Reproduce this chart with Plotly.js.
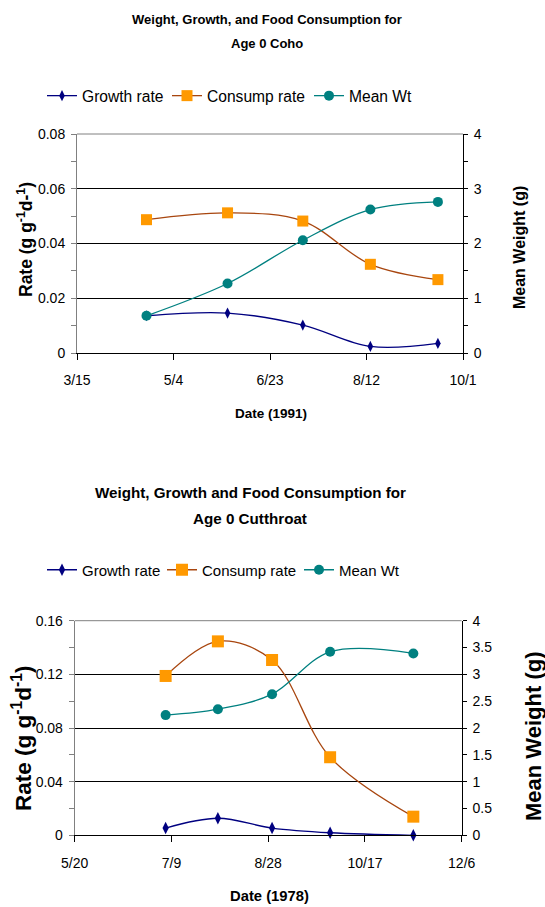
<!DOCTYPE html>
<html>
<head>
<meta charset="utf-8">
<script src="https://cdn.plot.ly/plotly-3.0.1.min.js"></script>
<style>html,body{margin:0;padding:0;background:#fff;}#chart{width:545px;height:907px;}</style>
</head>
<body>
<div id="chart"></div>
<script>
// ---- Data: Age 0 Coho (1991) ----
const cohoDates = ['1991-04-20', '1991-06-01', '1991-07-10', '1991-08-14', '1991-09-18'];
const cohoGrowth = [0.0136, 0.0146, 0.0102, 0.0024, 0.0035];
const cohoConsump = [0.0487, 0.0512, 0.0482, 0.0324, 0.0268];
const cohoMeanWt = [0.68, 1.27, 2.06, 2.62, 2.76];
const cohoTickVals = ['1991-03-15', '1991-05-04', '1991-06-23', '1991-08-12', '1991-10-01'];
const cohoTickText = ['3/15', '5/4', '6/23', '8/12', '10/1'];

// ---- Data: Age 0 Cutthroat (1978) ----
const cutDates = ['1978-07-06', '1978-08-02', '1978-08-30', '1978-09-29', '1978-11-11'];
const cutGrowth = [0.0054, 0.0127, 0.0054, 0.0019, 0.0];
const cutConsump = [0.1188, 0.1446, 0.1307, 0.0582, 0.0139];
const cutMeanWt = [2.24, 2.35, 2.63, 3.42, 3.39];
const cutTickVals = ['1978-05-20', '1978-07-09', '1978-08-28', '1978-10-17', '1978-12-06'];
const cutTickText = ['5/20', '7/9', '8/28', '10/17', '12/6'];

const seriesNames = ['Growth rate', 'Consump rate', 'Mean Wt'];

const W = 545, H = 907;
const px = v => v / W;
const py = v => 1 - v / H;

const SANS = '"Liberation Sans", Arial, sans-serif';

const navy = '#000080', brown = '#A8460F', orange = '#FF9900', teal = '#008080';

function mk(x, y, name, xa, ya, leg, style) {
  return Object.assign({
    type: 'scatter', mode: 'lines+markers', x: x, y: y, name: name,
    xaxis: xa, yaxis: ya, legend: leg, cliponaxis: false
  }, style);
}

const growthStyle = (s) => ({ line: { color: navy, width: 1.3, shape: 'spline', smoothing: 1 }, marker: { symbol: 'diamond-tall', size: s, color: navy } });
const consStyle = (s) => ({ line: { color: brown, width: 1.3, shape: 'spline', smoothing: 1 }, marker: { symbol: 'square', size: s, color: orange } });
const wtStyle = (s) => ({ line: { color: teal, width: 1.3, shape: 'spline', smoothing: 1 }, marker: { symbol: 'circle', size: s, color: teal } });

const data = [
  mk(cohoDates, cohoGrowth, seriesNames[0], 'x', 'y', 'legend', growthStyle(8)),
  mk(cohoDates, cohoConsump, seriesNames[1], 'x', 'y', 'legend2', consStyle(11)),
  mk(cohoDates, cohoMeanWt, seriesNames[2], 'x', 'y2', 'legend3', wtStyle(10)),
  mk(cutDates, cutGrowth, seriesNames[0], 'x2', 'y3', 'legend4', growthStyle(9)),
  mk(cutDates, cutConsump, seriesNames[1], 'x2', 'y3', 'legend5', consStyle(12)),
  mk(cutDates, cutMeanWt, seriesNames[2], 'x2', 'y4', 'legend6', wtStyle(10))
];

const tickFont = { family: SANS, size: 14, color: '#000' };

function leg(xPix, yPix, size) {
  return { orientation: 'h', x: px(xPix), xanchor: 'left', y: py(yPix), yanchor: 'middle',
    font: { family: SANS, size: size, color: '#000' }, bgcolor: 'rgba(0,0,0,0)', borderwidth: 0 };
}

const topX = [px(77), px(463)], topY = [py(353), py(134)];
const botX = [px(74.7), px(461.7)], botY = [py(835.3), py(620.7)];

function ann(text, x, y, size, angle) {
  const a = { text: text, x: px(x), y: py(y), xref: 'paper', yref: 'paper', showarrow: false,
    xanchor: 'center', yanchor: 'middle', font: { family: SANS, size: size, color: '#000' } };
  if (angle) a.textangle = angle;
  return a;
}

const layout = {
  width: W, height: H, autosize: false,
  margin: { l: 0, r: 0, t: 0, b: 0 },
  paper_bgcolor: '#fff', plot_bgcolor: '#fff',
  font: { family: SANS, color: '#000' },
  showlegend: true,
  legend: leg(42, 96, 15.6), legend2: leg(167, 96, 15.6), legend3: leg(309, 96, 15.6),
  legend4: leg(42, 570, 15), legend5: leg(162, 570, 15), legend6: leg(299, 570, 15),
  xaxis: {
    type: 'date', domain: topX, anchor: 'y', range: [cohoTickVals[0], cohoTickVals[4]],
    tickmode: 'array', tickvals: cohoTickVals, ticktext: cohoTickText,
    ticks: 'outside', ticklen: 6, tickcolor: '#000', showgrid: false, zeroline: false,
    showline: true, linecolor: '#000', linewidth: 1, tickfont: tickFont, ticklabelstandoff: 8
  },
  yaxis: {
    domain: topY, anchor: 'x', range: [0, 0.08], dtick: 0.02, tick0: 0,
    ticks: 'outside', ticklen: 5, tickcolor: '#808080', showgrid: true, gridcolor: '#000', gridwidth: 1,
    zeroline: false, showline: true, linecolor: '#808080', tickfont: tickFont, ticklabelstandoff: 3,
    minor: { dtick: 0.01, ticks: 'outside', ticklen: 5, tickcolor: '#808080', showgrid: false }
  },
  yaxis2: {
    overlaying: 'y', side: 'right', anchor: 'x', range: [0, 4], dtick: 1, tick0: 0,
    ticks: 'outside', ticklen: 4, tickcolor: '#000', showgrid: false, zeroline: false,
    showline: true, linecolor: '#000', tickfont: tickFont, ticklabelstandoff: 3,
    minor: { dtick: 0.5, ticks: 'outside', ticklen: 4, tickcolor: '#000', showgrid: false }
  },
  yaxis5: {
    overlaying: 'y', side: 'right', anchor: 'x', range: [0, 4], dtick: 0.5, tick0: 0,
    ticks: 'inside', ticklen: 4, tickcolor: '#000', showgrid: false, zeroline: false,
    showline: false, showticklabels: false
  },
  xaxis2: {
    type: 'date', domain: botX, anchor: 'y3', range: [cutTickVals[0], cutTickVals[4]],
    tickmode: 'array', tickvals: cutTickVals, ticktext: cutTickText,
    ticks: 'outside', ticklen: 6, tickcolor: '#000', showgrid: false, zeroline: false,
    showline: true, linecolor: '#000', linewidth: 1, tickfont: tickFont, ticklabelstandoff: 9
  },
  yaxis3: {
    domain: botY, anchor: 'x2', range: [0, 0.16], dtick: 0.04, tick0: 0,
    ticks: 'outside', ticklen: 5, tickcolor: '#808080', showgrid: true, gridcolor: '#000', gridwidth: 1,
    zeroline: false, showline: true, linecolor: '#808080', tickfont: tickFont, ticklabelstandoff: 3,
    minor: { dtick: 0.02, ticks: 'outside', ticklen: 5, tickcolor: '#808080', showgrid: false }
  },
  yaxis4: {
    overlaying: 'y3', side: 'right', anchor: 'x2', range: [0, 4], dtick: 0.5, tick0: 0,
    ticks: 'outside', ticklen: 4, tickcolor: '#000', showgrid: false, zeroline: false,
    showline: true, linecolor: '#000', tickfont: tickFont, ticklabelstandoff: 3
  },
  yaxis6: {
    overlaying: 'y3', side: 'right', anchor: 'x2', range: [0, 4], dtick: 0.5, tick0: 0,
    ticks: 'inside', ticklen: 4, tickcolor: '#000', showgrid: false, zeroline: false,
    showline: false, showticklabels: false
  },
  shapes: [
    { type: 'line', xref: 'x domain', yref: 'y domain', x0: 0, x1: 1, y0: 1, y1: 1, line: { color: '#808080', width: 1 } },
    { type: 'line', xref: 'x2 domain', yref: 'y3 domain', x0: 0, x1: 1, y0: 1, y1: 1, line: { color: '#808080', width: 1 } }
  ],
  annotations: [
    ann('<b>Weight, Growth, and Food Consumption for</b>', 267, 20, 13),
    ann('<b>Age 0 Coho</b>', 267, 43, 13),
    ann('<b>Date (1991)</b>', 271, 413, 13.5),
    ann('<b>Rate (g g<sup>-1</sup>d-<sup>1</sup>)</b>', 25, 240, 17.5, -90),
    ann('<b>Mean Weight (g)</b>', 519, 248, 16, -90),
    ann('<b>Weight, Growth and Food Consumption for</b>', 250, 492, 15.2),
    ann('<b>Age 0 Cutthroat</b>', 250, 518, 15.2),
    ann('<b>Date (1978)</b>', 269, 896, 14.8),
    ann('<b>Rate (g g<sup>-1</sup>d<sup>-1</sup>)</b>', 22, 738, 22.5, -90),
    ann('<b>Mean Weight (g)</b>', 533, 737, 22, -90)
  ]
};

Plotly.newPlot('chart', data, layout, { staticPlot: true, displayModeBar: false });
</script>
</body>
</html>
